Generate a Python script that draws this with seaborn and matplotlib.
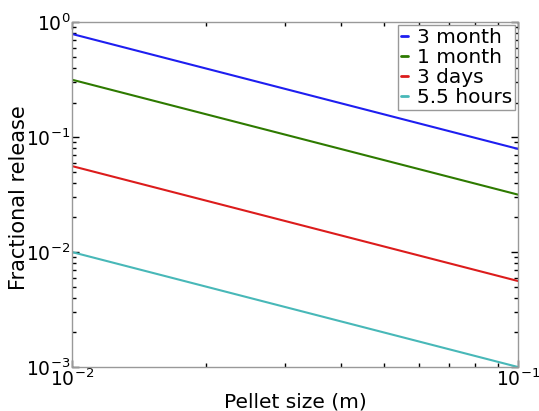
import matplotlib
matplotlib.use("Agg")
import matplotlib.pyplot as plt
import seaborn as sns
import pandas as pd
import numpy as np
from matplotlib.ticker import LogLocator, NullFormatter

sns.set_style("white")
plt.rcParams['font.family'] = ['DejaVu Sans']
plt.rcParams['text.color'] = 'black'
plt.rcParams['axes.labelcolor'] = 'black'
plt.rcParams['xtick.color'] = 'black'
plt.rcParams['ytick.color'] = 'black'
plt.rcParams['mathtext.default'] = 'regular'

pellet_size = [0.01, 0.1]
release_3month = [0.79, 0.079]
release_1month = [0.316, 0.0316]
release_3days = [0.056, 0.0056]
release_55hours = [0.01, 0.001]
labels = ["3 month", "1 month", "3 days", "5.5 hours"]
colors = ["#1e1ef0", "#2e7a00", "#dc1c1c", "#48b8b8"]

rows = []
for lab, vals in zip(labels, [release_3month, release_1month, release_3days, release_55hours]):
    for x, y in zip(pellet_size, vals):
        rows.append({"Pellet size (m)": x, "Fractional release": y, "series": lab})
df = pd.DataFrame(rows)

fig = plt.figure(figsize=(5.39, 4.11), dpi=100)
ax = fig.add_axes([0.1336, 0.107, 0.8275, 0.839])
sns.lineplot(data=df, x="Pellet size (m)", y="Fractional release", hue="series",
             hue_order=labels, palette=colors, ax=ax, linewidth=1.5, legend=True)
ax.set_xscale("log")
ax.set_yscale("log")
ax.set_xlim(0.01, 0.1)
ax.set_ylim(1e-3, 1)
ax.set_xlabel("Pellet size (m)", fontsize=14.5, labelpad=2)
ax.set_ylabel("Fractional release", fontsize=15)
ax.yaxis.set_label_coords(-0.097, 0.49)
ax.tick_params(which="both", direction="in", color="black", labelsize=13.5,
               top=True, right=True, bottom=True, left=True)
ax.tick_params(axis="y", which="major", pad=1)
ax.tick_params(axis="x", which="major", pad=1)
ax.tick_params(which="major", length=5, width=1)
ax.tick_params(which="minor", length=3, width=1)
ax.xaxis.set_minor_locator(LogLocator(base=10, subs=np.arange(2, 10)))
ax.yaxis.set_minor_locator(LogLocator(base=10, subs=np.arange(2, 10)))
ax.xaxis.set_minor_formatter(NullFormatter())
ax.yaxis.set_minor_formatter(NullFormatter())
for s in ax.spines.values():
    s.set_color("#999999")
    s.set_linewidth(1)
leg = ax.legend(loc="upper right", fontsize=14.5, handlelength=0.35, handletextpad=0.45,
                borderpad=0.15, labelspacing=0.05, fancybox=False, framealpha=1,
                borderaxespad=0.15)
leg.get_frame().set_edgecolor("#999999")
leg.get_frame().set_linewidth(1)
for line in leg.get_lines():
    line.set_linewidth(2)
fig.savefig("out.png", dpi=100)
